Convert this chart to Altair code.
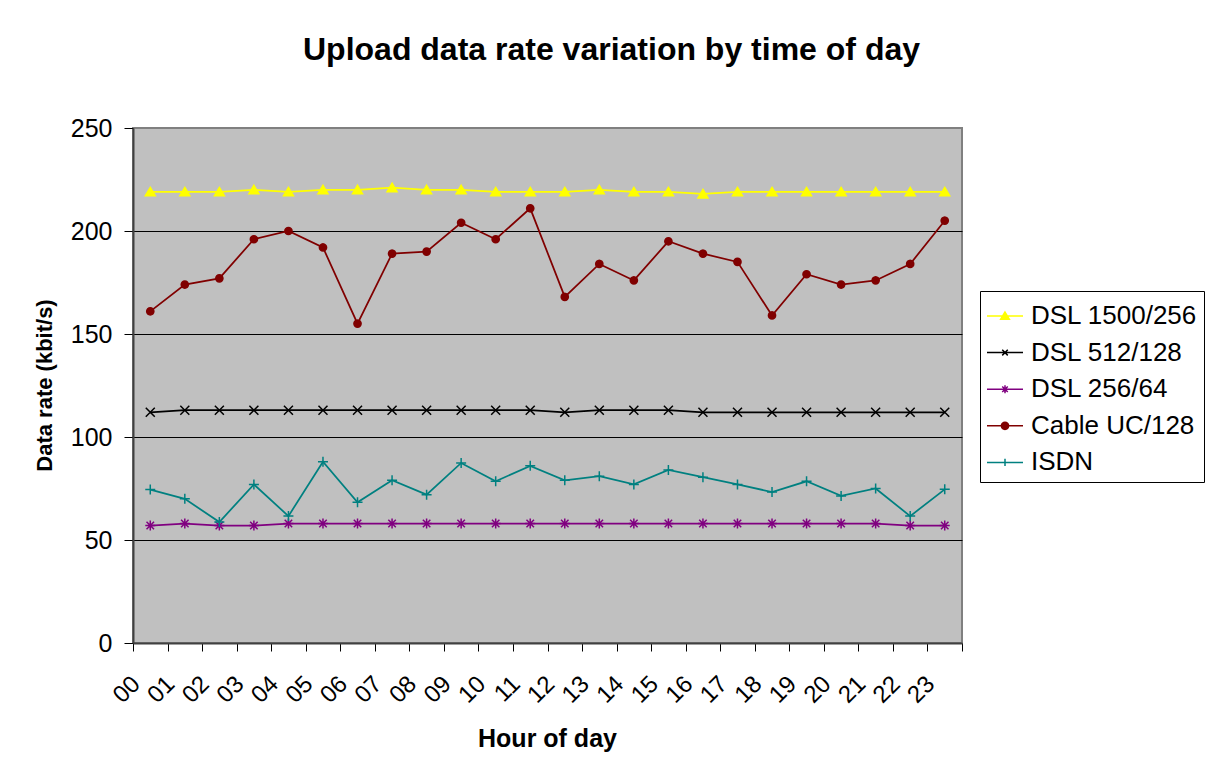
import json
import math
import altair as alt
import pandas as pd

# ---- data ----
hours = ["00", "01", "02", "03", "04", "05", "06", "07", "08", "09", "10", "11",
         "12", "13", "14", "15", "16", "17", "18", "19", "20", "21", "22", "23"]
series_names = ["DSL 1500/256", "DSL 512/128", "DSL 256/64", "Cable UC/128", "ISDN"]
dsl_1500_256 = [219, 219, 219, 220, 219, 220, 220, 221, 220, 220, 219, 219,
                219, 220, 219, 219, 218, 219, 219, 219, 219, 219, 219, 219]
dsl_512_128 = [112, 113, 113, 113, 113, 113, 113, 113, 113, 113, 113, 113,
               112, 113, 113, 113, 112, 112, 112, 112, 112, 112, 112, 112]
dsl_256_64 = [57, 58, 57, 57, 58, 58, 58, 58, 58, 58, 58, 58,
              58, 58, 58, 58, 58, 58, 58, 58, 58, 58, 57, 57]
cable_uc_128 = [161, 174, 177, 196, 200, 192, 155, 189, 190, 204, 196, 211,
                168, 184, 176, 195, 189, 185, 159, 179, 174, 176, 184, 205]
isdn = [74.5, 70, 58.7, 77, 61.6, 88, 68.3, 79, 72, 87.4, 78.5, 86,
        79, 81, 77, 84, 80.5, 77, 73.3, 78.5, 71.4, 75, 61.6, 74.6]
y_ticks = [0, 50, 100, 150, 200, 250]

# ---- styles ----
colors = ["#FFFF00", "#000000", "#800080", "#800000", "#008080"]


def poly_circle(r, n=16):
    pts = [(r * math.cos(2 * math.pi * k / n), r * math.sin(2 * math.pi * k / n)) for k in range(n)]
    return "M" + "L".join(f"{x:.3f},{y:.3f}" for x, y in pts) + "Z"


marker_paths = [
    "M0,-0.9L1,0.8L-1,0.8Z",
    "M-0.9,-0.9L0.9,0.9M-0.9,0.9L0.9,-0.9",
    "M-1,0H1M0,-1V1M-0.75,-0.75L0.75,0.75M-0.75,0.75L0.75,-0.75",
    poly_circle(0.72),
    "M-1,0H1M0,-1V1",
]
s = 0.22
legend_paths = [
    "M-1,0H1M0,%.3fL%.3f,%.3fL%.3f,%.3fZ" % (-s * 1.0, s * 1.1, s * 0.8, -s * 1.1, s * 0.8),
    "M-1,0H1M%.3f,%.3fL%.3f,%.3fM%.3f,%.3fL%.3f,%.3f" % (-s * 0.7, -s * 0.7, s * 0.7, s * 0.7, -s * 0.7, s * 0.7, s * 0.7, -s * 0.7),
    "M-1,0H1M0,%.3fV%.3fM%.3f,%.3fL%.3f,%.3fM%.3f,%.3fL%.3f,%.3f" % (-s, s, -s * 0.7, -s * 0.7, s * 0.7, s * 0.7, -s * 0.7, s * 0.7, s * 0.7, -s * 0.7),
    "M-1,0H1" + poly_circle(0.2),
    "M-1,0H1M0,%.3fV%.3f" % (-s * 0.9, s * 0.9),
]

rows = []
for name, vals in zip(series_names, [dsl_1500_256, dsl_512_128, dsl_256_64, cable_uc_128, isdn]):
    for i, (h, v) in enumerate(zip(hours, vals)):
        rows.append({"series": name, "idx": i, "hour": h, "rate": v})
df = pd.DataFrame(rows)

FONT = "Liberation Sans"
label_expr = json.dumps(hours).replace('"', "'") + "[datum.value] || ''"

x_enc = alt.X(
    "xpos:Q",
    scale=alt.Scale(domain=[0, 24], nice=False, zero=False),
    axis=alt.Axis(
        title="Hour of day", values=list(range(25)), labelExpr=label_expr,
        labelAngle=-45, labelAlign="right", labelBaseline="middle",
        labelPadding=29, labelOffset=3, tickSize=8, grid=False,
        labelOverlap=False, labelFontSize=24, titleFontSize=25,
        titleX=414, titleY=95, titleBaseline="middle", titleAlign="center",
    ),
)
y_enc = alt.Y(
    "rate:Q",
    scale=alt.Scale(domain=[0, 250], nice=False),
    axis=alt.Axis(
        title="Data rate (kbit/s)", values=y_ticks, tickSize=9, labelPadding=12,
        grid=True, labelFontSize=25, titleFontSize=22, labelOverlap=False,
        gridColor={"condition": {"test": "datum.value === 250 || datum.value === 0", "value": "#808080"}, "value": "#000000"},
        titleX=-89, titleY=257, titleBaseline="middle", titleAlign="center",
    ),
)

base = alt.Chart(df).transform_calculate(xpos="datum.idx + 0.5")

lines = base.mark_line(strokeWidth=1.75).encode(
    x=x_enc, y=y_enc,
    color=alt.Color("series:N", scale=alt.Scale(domain=series_names, range=colors), legend=None),
)

points = base.mark_point(filled=True, size=100, strokeWidth=1.5, opacity=1).encode(
    x=x_enc, y=y_enc,
    fill=alt.Fill("series:N", scale=alt.Scale(domain=series_names, range=colors), legend=None),
    stroke=alt.Stroke("series:N", scale=alt.Scale(domain=series_names, range=colors), legend=None),
    shape=alt.Shape("series:N", scale=alt.Scale(domain=series_names, range=marker_paths), legend=None),
)

leg_common = dict(title=None)
legend_layer = base.transform_filter("false").mark_point(filled=True, strokeWidth=1.5, opacity=1).encode(
    x=x_enc, y=y_enc,
    fill=alt.Fill("series:N", scale=alt.Scale(domain=series_names, range=colors), legend=alt.Legend(**leg_common)),
    stroke=alt.Stroke("series:N", scale=alt.Scale(domain=series_names, range=colors), legend=alt.Legend(**leg_common)),
    shape=alt.Shape("series:N", scale=alt.Scale(domain=series_names, range=legend_paths), legend=alt.Legend(**leg_common)),
)

chart = (
    alt.layer(lines, points, legend_layer)
    .resolve_scale(fill="independent", stroke="independent", shape="independent", color="independent")
    .properties(
        width=829, height=515,
        autosize=alt.AutoSizeParams(type="none"),
        padding={"left": 125, "top": 120, "right": 249, "bottom": 115},
        title=alt.TitleParams(
            "Upload data rate variation by time of day", font=FONT, fontSize=32,
            fontWeight="bold", anchor="middle", frame="group", dx=64, offset=24,
            baseline="alphabetic", color="#000000",
        ),
    )
    .configure_view(fill="#C0C0C0", stroke="#808080", strokeWidth=2)
    .configure_axis(
        labelFont=FONT, labelColor="#000000",
        titleFont=FONT, titleFontWeight="bold", titleColor="#000000",
        domainColor="#404040", domainWidth=2, tickColor="#000000", tickWidth=1,
        gridWidth=1,
    )
    .configure_legend(
        orient="none", legendX=847, legendY=163, padding=6,
        strokeColor="#000000", fillColor="#FFFFFF", strokeWidth=1,
        symbolSize=1296, symbolStrokeWidth=1.5, symbolOffset=0,
        labelFont=FONT, labelFontSize=26, labelColor="#000000", labelOffset=7,
        rowPadding=4.6, labelLimit=400,
    )
)

chart.save("out.html", embed_options={"renderer": "svg", "actions": False})
